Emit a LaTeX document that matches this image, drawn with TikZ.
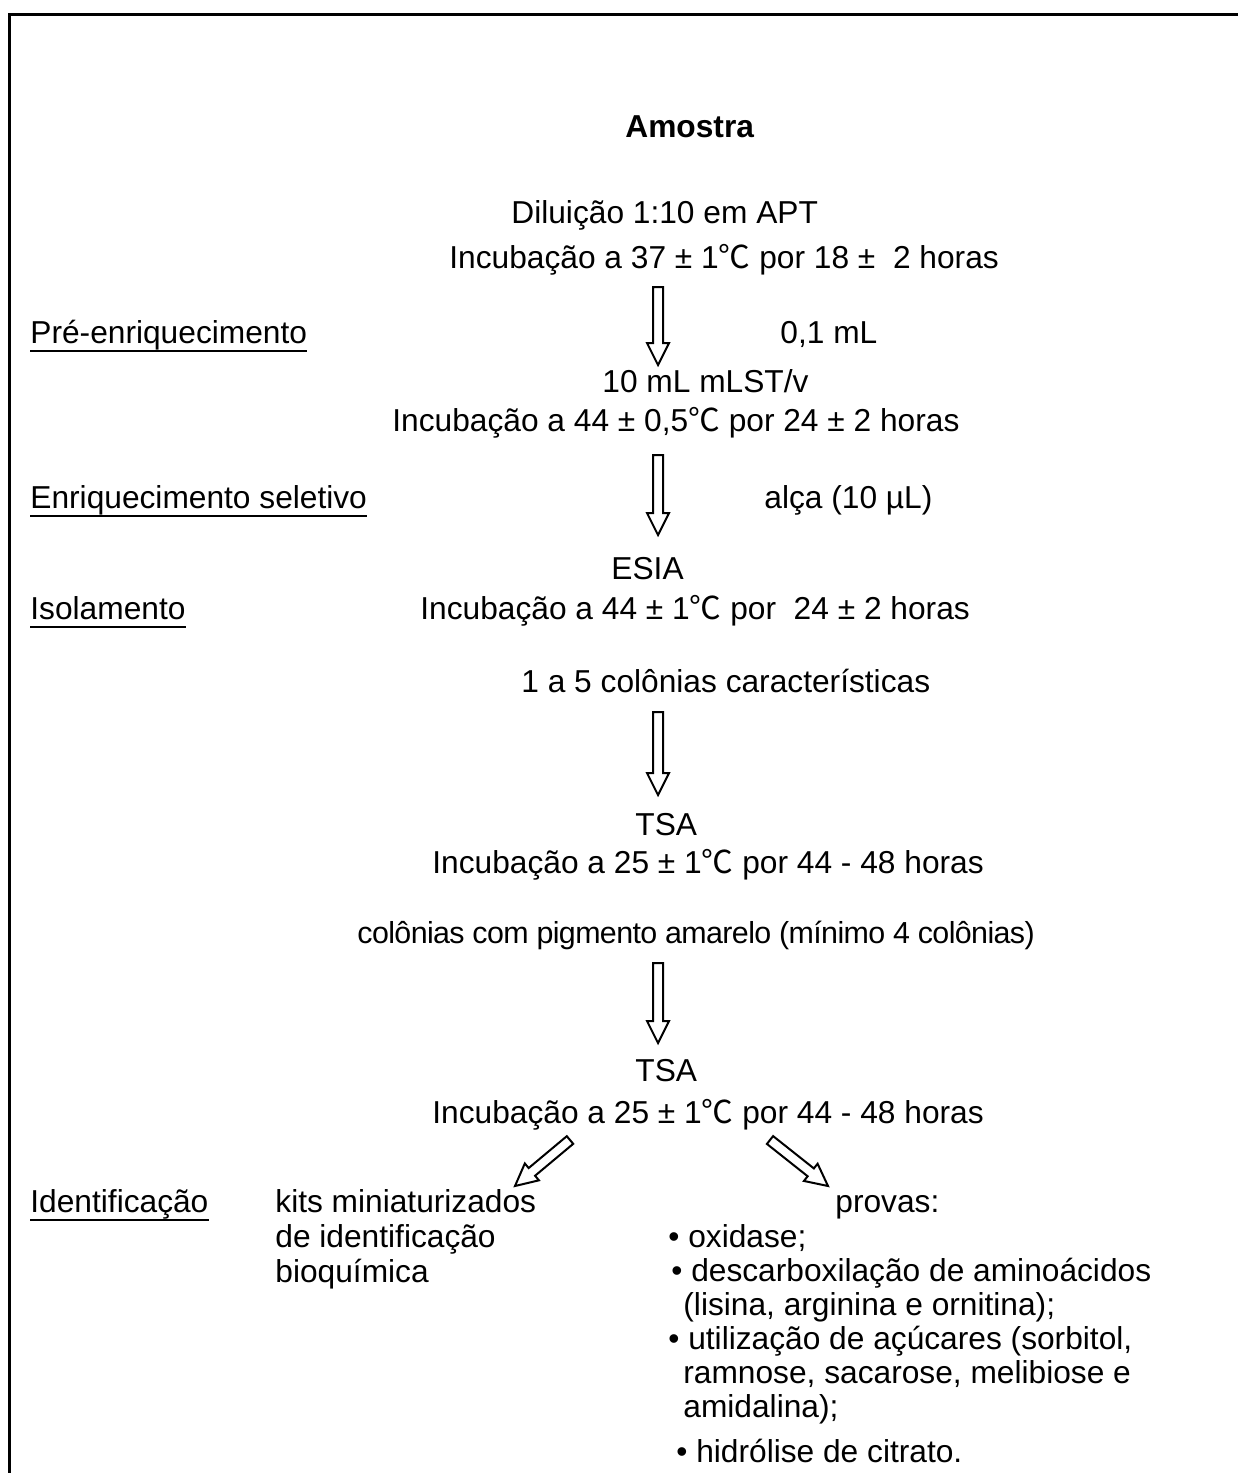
\documentclass[tikz,border=0pt]{standalone}
\usepackage{fontspec}
\setmainfont{Liberation Sans}
\newfontfamily\cjk{Noto Sans CJK SC}
\newfontfamily\condensedfont[LetterSpace=-2]{Liberation Sans}
\usetikzlibrary{calc}
\newcommand{\cel}{{\cjk ℃}}
\newcommand{\blockarr}[2]{%
  \coordinate (bh) at ($(#2)!11pt!(#1)$);
  \draw[arrline] ($(#1)!2.5pt!90:(#2)$) -- ($(bh)!2.5pt!90:(#2)$) -- ($(bh)!5.5pt!90:(#2)$) -- (#2)
     -- ($(bh)!5.5pt!-90:(#2)$) -- ($(bh)!2.5pt!-90:(#2)$) -- ($(#1)!2.5pt!-90:(#2)$) -- cycle;}
\begin{document}
\begin{tikzpicture}[x=0.5pt,y=-0.5pt,
  txt/.style={anchor=base west, inner sep=0pt, font=\fontsize{15.85pt}{16.5pt}\selectfont},
  condtxt/.style={anchor=base west, inner sep=0pt, font=\condensedfont\fontsize{15.2pt}{16.5pt}\selectfont},
  arrline/.style={line width=1pt, draw=black, fill=white, line join=miter},
  frame/.style={line width=1.5pt},
  uline/.style={line width=1pt}]
\useasboundingbox (0,0) rectangle (1238,1473);
\draw[frame] (1238,14) -- (9,14) -- (9,1473);

\node[txt, font=\fontsize{15.85pt}{16.5pt}\selectfont\bfseries] (amostra) at (625,137) {Amostra};
\node[txt] (dil) at (511,223) {Diluição 1:10 em APT};
\node[txt] (inc1) at (449,268) {Incubação a 37 ± 1\cel{} por 18 ±\ \ 2 horas};
\node[txt] (pre) at (30,343) {Pré-enriquecimento};
\node[txt] (v01) at (780,343) {0,1 mL};
\node[txt] (mlst) at (602,392) {10 mL mLST/v};
\node[txt] (inc2) at (392,431) {Incubação a 44 ± 0,5\cel{} por 24 ± 2 horas};
\node[txt] (enr) at (30,508) {Enriquecimento seletivo};
\node[txt] (alca) at (764,508) {alça (10 µL)};
\node[txt] (esia) at (611,579) {ESIA};
\node[txt] (iso) at (30,619) {Isolamento};
\node[txt] (inc3) at (420,619) {Incubação a 44 ± 1\cel{} por\ \ 24 ± 2 horas};
\node[txt] (col1) at (521,692) {1 a 5 colônias características};
\node[txt] (tsa1) at (635,835) {TSA};
\node[txt] (inc4) at (432,873) {Incubação a 25 ± 1\cel{} por 44 - 48 horas};
\node[condtxt] (col2) at (357,943) {colônias com pigmento amarelo (mínimo 4 colônias)};
\node[txt] (tsa2) at (635,1081) {TSA};
\node[txt] (inc5) at (432,1123) {Incubação a 25 ± 1\cel{} por 44 - 48 horas};
\node[txt] (ident) at (30,1212) {Identificação};
\node[txt] (kits1) at (275,1212) {kits miniaturizados};
\node[txt] (kits2) at (275,1247) {de identificação};
\node[txt] (kits3) at (275,1282) {bioquímica};
\node[txt] (prov) at (835,1212) {provas:};
\node[txt] (p1) at (668,1247) {• oxidase;};
\node[txt] (p2) at (671,1281) {• descarboxilação de aminoácidos};
\node[txt] (p3) at (683,1315) {(lisina, arginina e ornitina);};
\node[txt] (p4) at (668,1349) {• utilização de açúcares (sorbitol,};
\node[txt] (p5) at (683,1383) {ramnose, sacarose, melibiose e};
\node[txt] (p6) at (683,1417) {amidalina);};
\node[txt] (p7) at (676,1462) {• hidrólise de citrato.};

\foreach \n in {pre,enr,iso,ident}
  \draw[uline] ([yshift=-3.75pt]\n.base west) -- ([yshift=-3.75pt]\n.base east);

\coordinate (a1s) at (658,287); \coordinate (a1e) at (658,365);
\coordinate (a2s) at (658,455); \coordinate (a2e) at (658,535);
\coordinate (a3s) at (658,712); \coordinate (a3e) at (658,795);
\coordinate (a4s) at (658,963); \coordinate (a4e) at (658,1043);
\coordinate (a5s) at (570,1140); \coordinate (a5e) at (515,1186);
\coordinate (a6s) at (770,1140); \coordinate (a6e) at (828,1186);
\blockarr{a1s}{a1e}
\blockarr{a2s}{a2e}
\blockarr{a3s}{a3e}
\blockarr{a4s}{a4e}
\blockarr{a5s}{a5e}
\blockarr{a6s}{a6e}
\end{tikzpicture}
\end{document}
